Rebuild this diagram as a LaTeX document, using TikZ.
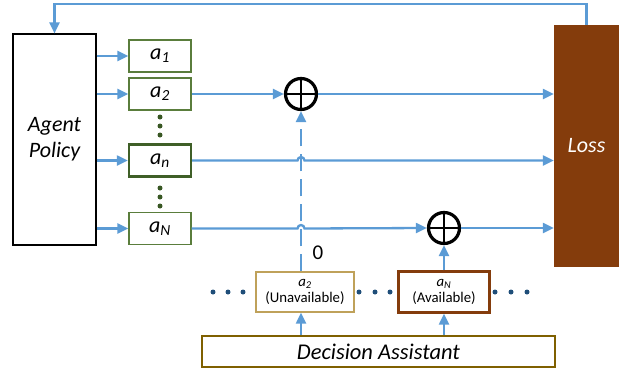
\documentclass[tikz,border=0pt]{standalone}
\usepackage{fontspec}
\setmainfont{Carlito}
\usetikzlibrary{arrows.meta,calc}

\definecolor{flow}{HTML}{5B9BD5}
\definecolor{actgreen}{HTML}{5A7D3C}
\definecolor{actdark}{HTML}{3F5F27}
\definecolor{dotgreen}{HTML}{385723}
\definecolor{dotblue}{HTML}{1F4E79}
\definecolor{unavtan}{HTML}{BFA15A}
\definecolor{lossbrown}{HTML}{843C0C}
\definecolor{assistolive}{HTML}{7F6000}

\newcommand{\act}[1]{\textit{a}\textsubscript{\textit{#1}}}

\tikzset{
  agentbox/.style={draw=black, line width=1.1pt, minimum width=83pt, minimum height=211pt,
    inner sep=0pt, align=center, font=\fontsize{22}{26}\selectfont\itshape},
  actbox/.style={draw=actgreen, line width=1.3pt, fill=white, minimum width=62pt,
    minimum height=32pt, inner sep=0pt, font=\fontsize{22}{24}\selectfont},
  actboxbold/.style={actbox, draw=actdark, line width=2.4pt},
  lossbox/.style={fill=lossbrown, minimum width=65pt, minimum height=242pt, inner sep=0pt,
    text=white, font=\fontsize{22}{24}\selectfont\itshape},
  plussign/.style={circle, draw=black, line width=3.2pt, minimum size=31pt, inner sep=0pt},
  choicebox/.style={draw=unavtan, line width=1.4pt, fill=white, minimum width=98pt,
    minimum height=40pt, inner sep=0pt, align=center, font=\fontsize{14.8}{16.5}\selectfont},
  assistbox/.style={draw=assistolive, line width=2.8pt, minimum width=353pt, minimum height=31pt,
    inner sep=0pt, font=\fontsize{22.5}{24}\selectfont\itshape},
  flowline/.style={draw=flow, line width=2.3pt},
  flowarrow/.style={flowline, -{Triangle[length=11pt,width=10pt]}},
  flowdash/.style={flowarrow, dash pattern=on 17pt off 8pt},
  gdot/.style={circle, fill=dotgreen, minimum size=5pt, inner sep=0pt},
  bdot/.style={circle, fill=dotblue, minimum size=5pt, inner sep=0pt},
}

\begin{document}
\begin{tikzpicture}[x=1pt, y=-1pt]
\useasboundingbox (0,0) rectangle (624,373);

% policy, actions and loss
\node[agentbox] (agent) at (54.5,139.5) {Agent\\Policy};
\node[actbox] (a1) at (160,56) {\act{1}};
\node[actbox] (a2) at (160,94) {\act{2}};
\node[actboxbold] (an) at (160,160.5) {\act{n}};
\node[actbox] (aN) at (160,228.5) {\act{N}};
\node[lossbox] (loss) at (586.5,146) {Loss};

% vertical ellipses between the action boxes
\foreach \yy [count=\i] in {117,126,135,188,197,206}
  \node[gdot] (vd\i) at (160,\yy) {};

% combination points
\node[plussign] (plus1) at (301,94) {};
\node[plussign] (plus2) at (444,228) {};
\draw[line width=2.8pt] (plus1.north) -- (plus1.south) (plus1.west) -- (plus1.east);
\draw[line width=2.8pt] (plus2.north) -- (plus2.south) (plus2.west) -- (plus2.east);

% decision assistant and its outputs
\node[choicebox] (unav) at (305,292) {\act{2}\\(Unavailable)};
\node[choicebox, draw=lossbrown, line width=2.4pt, minimum width=91pt, minimum height=41pt]
  (avail) at (444,292) {\act{N}\\(Available)};
\node[assistbox] (assist) at (378.5,351.5) {Decision Assistant};
\node[font=\fontsize{21}{22}\selectfont] (zero) at (318,253) {0};

% horizontal ellipses around the outputs
\foreach \xx [count=\i] in {213,228,243,359,375,390,495,511,527}
  \node[bdot] (hd\i) at (\xx,292) {};

% policy to actions
\foreach \a in {a1,a2,an,aN}
  \draw[flowarrow] (agent.east |- \a) -- (\a.west);

% actions to loss
\draw[flowarrow] (a2.east) -- (plus1.west);
\draw[flowarrow] (plus1.east) -- (loss.west |- plus1);
\draw[flowarrow] (an.east) -- ($(plus1 |- an)+(-3.5,0)$)
  arc[start angle=180, end angle=360, radius=3.5] -- (loss.west |- an);
\draw[flowarrow] (aN.east) -- ($(plus1 |- aN)+(-3.5,0)$)
  arc[start angle=180, end angle=360, radius=3.5] -- (plus2.west);
\draw[flowarrow] (plus2.east) -- (loss.west |- plus2);

% masked and available actions
\draw[flowdash] (plus1 |- unav.north) -- (plus1.south);
\draw[flowarrow] (avail.north) -- (plus2.south);
\draw[flowarrow] (plus1 |- assist.north) -- (plus1 |- unav.south);
\draw[flowarrow] (avail |- assist.north) -- (avail.south);

% feedback from loss to policy
\coordinate (fbtop) at (0,4);
\draw[flowarrow] (loss.north) -- (loss.north |- fbtop) -- (agent.north |- fbtop) -- (agent.north);
\end{tikzpicture}
\end{document}
